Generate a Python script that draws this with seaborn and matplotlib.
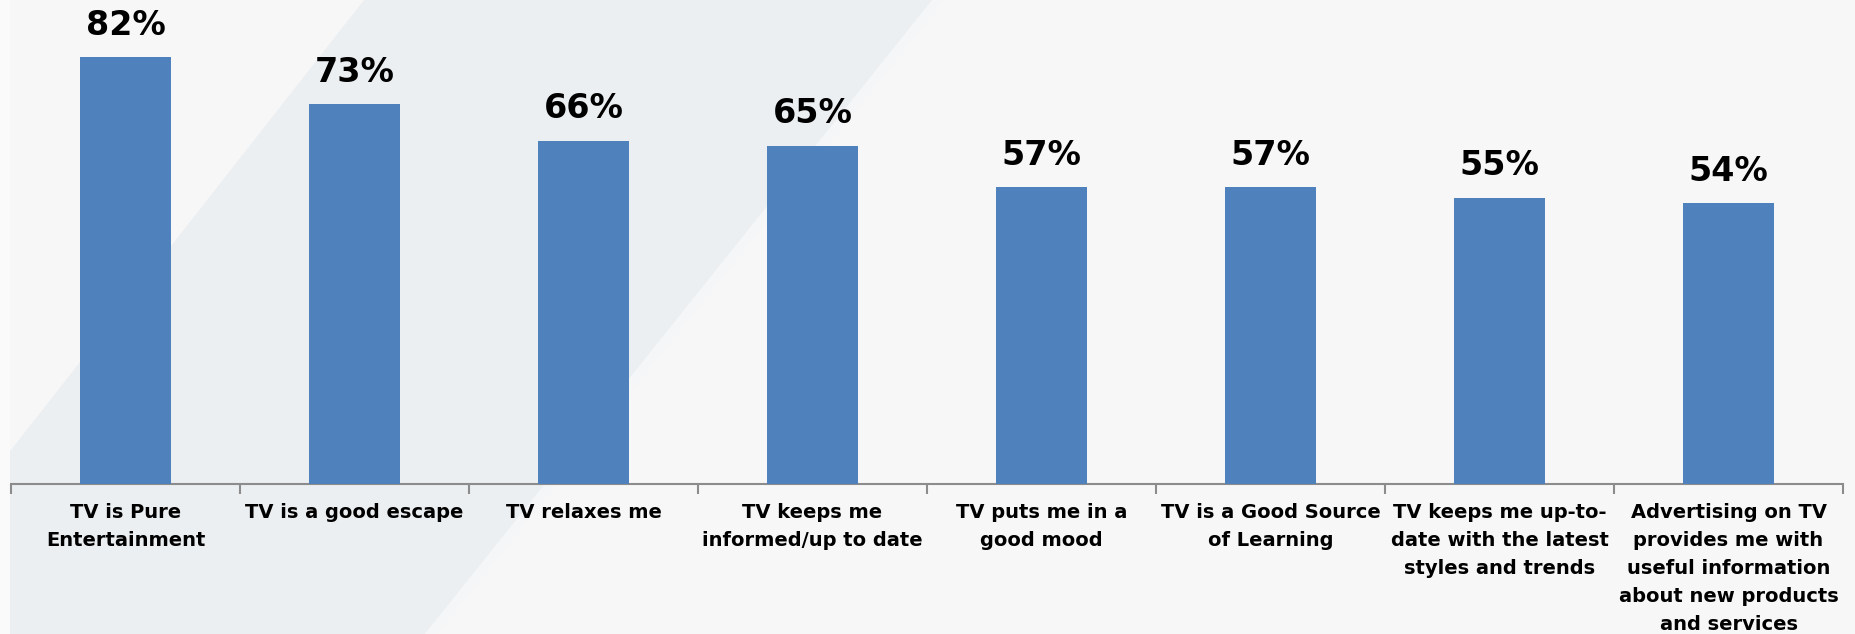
import matplotlib
matplotlib.use("Agg")
import matplotlib.pyplot as plt
from matplotlib.patches import Polygon
import seaborn as sns
import pandas as pd

categories = [
    "TV is Pure\nEntertainment",
    "TV is a good escape",
    "TV relaxes me",
    "TV keeps me\ninformed/up to date",
    "TV puts me in a\ngood mood",
    "TV is a Good Source\nof Learning",
    "TV keeps me up-to-\ndate with the latest\nstyles and trends",
    "Advertising on TV\nprovides me with\nuseful information\nabout new products\nand services",
]
values = [82, 73, 66, 65, 57, 57, 55, 54]
value_labels = [f"{v}%" for v in values]

sns.set_theme(style="white")
plt.rcParams["font.family"] = ["DejaVu Sans"]

W, H = 1855, 634
fig = plt.figure(figsize=(W / 100, H / 100), dpi=100, facecolor="#F7F7F7")


def fpt(x, y):
    return (x / W, 1 - y / H)


# slide backdrop: darker diagonal band between two parallel slanted edges
band = [fpt(364, 0), fpt(941, 0), fpt(941 - 0.8 * 634, 634), fpt(0, 634), fpt(0, 464)]
fig.patches.append(Polygon(band, closed=True, transform=fig.transFigure,
                           facecolor="#ECEFF2", edgecolor="none", zorder=-10))
# faint highlight along the right edge of the band
hl = [fpt(932, 0), fpt(944, 0), fpt(944 - 0.8 * 634, 634), fpt(932 - 0.8 * 634, 634)]
fig.patches.append(Polygon(hl, closed=True, transform=fig.transFigure,
                           facecolor="#F5F6F8", edgecolor="none", zorder=-9))
fig.patches.append(Polygon([fpt(0, 0), fpt(10, 0), fpt(10, 634), fpt(0, 634)],
                           closed=True, transform=fig.transFigure,
                           facecolor="#FAFAFA", edgecolor="none", zorder=-8))

ax = fig.add_axes([11 / W, 1 - 484 / H, (1843 - 11) / W, 484 / H])
ax.set_facecolor("none")

df = pd.DataFrame({"cat": categories, "val": values})
sns.barplot(data=df, x="cat", y="val", color="#4F81BD", saturation=1,
            width=0.40, linewidth=0, edgecolor="none", ax=ax, zorder=3)

ax.set_ylim(0, 93)
ax.set_xlim(-0.5, len(categories) - 0.5)
ax.set_xlabel("")
ax.set_ylabel("")
ax.set_yticks([])

for s in ["top", "right", "left"]:
    ax.spines[s].set_visible(False)
ax.spines["bottom"].set_color("#8C8C8C")
ax.spines["bottom"].set_linewidth(1.5)

ax.set_xticks(range(len(categories)))
ax.set_xticklabels(categories, fontsize=14, fontweight="bold", color="black",
                   linespacing=1.6, ha="center", va="top")
ax.tick_params(axis="x", which="major", length=0, pad=14)
ax.set_xticks([i - 0.5 for i in range(len(categories) + 1)], minor=True)
ax.tick_params(axis="x", which="minor", length=7, width=1.5, color="#8C8C8C",
               direction="out", bottom=True)

ax.bar_label(ax.containers[0], labels=value_labels, padding=11,
             fontsize=24, fontweight="bold", color="black")

fig.savefig("out.png", dpi=100, facecolor=fig.get_facecolor())
